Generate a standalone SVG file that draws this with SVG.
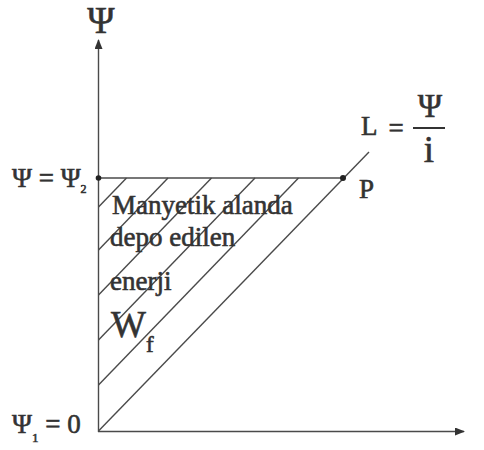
<svg xmlns="http://www.w3.org/2000/svg" width="484" height="450" viewBox="0 0 484 450">
<style>
.ln{stroke:#4a4a4a;stroke-width:1.4;fill:none}
.t{font-family:"Liberation Serif","Times New Roman",serif;fill:#333;stroke:#333;stroke-width:0.6}
</style>
<defs>
<marker id="ah" viewBox="0 0 10 8" refX="9" refY="4" markerWidth="10" markerHeight="8" markerUnits="userSpaceOnUse" orient="auto">
<path d="M0,0 L10,4 L0,8 Z" fill="#333"/>
</marker>
</defs>
<rect width="484" height="450" fill="#fff"/>
<g id="connectors">
<line class="ln" x1="98.5" y1="432" x2="98.5" y2="40" marker-end="url(#ah)"/>
<line class="ln" x1="98" y1="431.5" x2="464" y2="431.5" marker-end="url(#ah)"/>
<line class="ln" x1="98.5" y1="178" x2="343" y2="178"/>
<line class="ln" x1="98.5" y1="431" x2="369" y2="152"/>
<g id="hatch">
<line class="ln" x1="98.5" y1="385" x2="298.5" y2="178"/>
<line class="ln" x1="98.5" y1="340" x2="255" y2="178"/>
<line class="ln" x1="98.5" y1="295" x2="211.5" y2="178"/>
<line class="ln" x1="98.5" y1="250" x2="168" y2="178"/>
<line class="ln" x1="98.5" y1="207" x2="126.5" y2="178"/>
</g>
</g>
<g id="point-psi2"><circle cx="98.5" cy="178" r="2.8" fill="#222"/></g>
<g id="point-P">
<circle cx="343" cy="178" r="3" fill="#222"/>
<text class="t" x="359" y="198" font-size="27">P</text>
</g>
<g id="label-axis"><text class="t" x="101" y="33" font-size="37" text-anchor="middle">Ψ</text></g>
<g id="label-L">
<text class="t" x="361" y="135" font-size="27">L</text>
<text class="t" x="396" y="137" font-size="27" text-anchor="middle">=</text>
<text class="t" x="430" y="117" font-size="33" text-anchor="middle">Ψ</text>
<line x1="413" y1="128" x2="445" y2="128" stroke="#333" stroke-width="2"/>
<text class="t" x="429" y="162" font-size="37" text-anchor="middle">i</text>
</g>
<g id="label-psi2">
<text class="t" x="12" y="187" font-size="27">Ψ = Ψ<tspan font-size="12" dy="6">2</tspan></text>
</g>
<g id="label-psi1">
<text class="t" x="12" y="433" font-size="27">Ψ<tspan font-size="13" dy="9">1</tspan><tspan dy="-9"> = 0</tspan></text>
</g>
<g id="label-area">
<text class="t" x="112" y="214" font-size="27">Manyetik alanda</text>
<text class="t" x="110" y="246" font-size="27">depo edilen</text>
<text class="t" x="110" y="290" font-size="27">enerji</text>
<text class="t" x="111" y="337" font-size="37">W<tspan font-size="23" dy="15">f</tspan></text>
</g>
</svg>
